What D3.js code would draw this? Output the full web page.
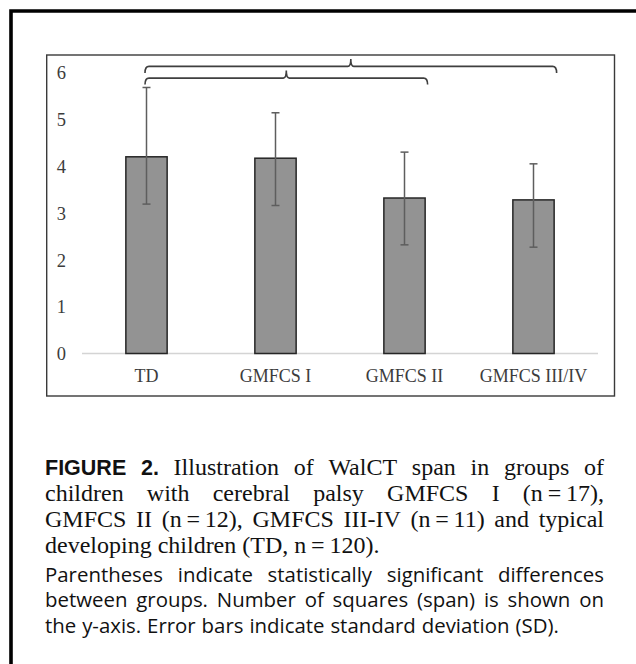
<!DOCTYPE html>
<html>
<head>
<meta charset="utf-8">
<script src="https://cdn.jsdelivr.net/npm/d3@7"></script>
<style>
  html, body { margin: 0; padding: 0; background: #fff; }
  svg { display: block; }
</style>
</head>
<body>
<svg id="chart" width="636" height="664"></svg>
<script>
// ---- data ----
const categories = ["TD", "GMFCS I", "GMFCS II", "GMFCS III/IV"];
const means      = [4.20, 4.17, 3.32, 3.28];
const sdUpper    = [5.68, 5.14, 4.30, 4.05];
const sdLower    = [3.19, 3.16, 2.32, 2.27];
const yTicks     = [0, 1, 2, 3, 4, 5, 6];
// significance brackets: from / to category, level in y units
const bracketFrom  = ["TD", "TD"];
const bracketTo    = ["GMFCS III/IV", "GMFCS II"];
const bracketLevel = [6.13, 5.88];

const captionLines = [
  { justify: true,  words: [["FIGURE", "b"], ["2.", "b"], ["Illustration"], ["of"], ["WalCT"], ["span"], ["in"], ["groups"], ["of"]] },
  { justify: true,  words: [["children"], ["with"], ["cerebral"], ["palsy"], ["GMFCS"], ["I"], ["(n\u2009=\u200917),"]] },
  { justify: true,  words: [["GMFCS"], ["II"], ["(n\u2009=\u200912),"], ["GMFCS"], ["III-IV"], ["(n\u2009=\u200911)"], ["and"], ["typical"]] },
  { justify: false, words: [["developing"], ["children"], ["(TD,"], ["n\u2009=\u2009120)."]] },
  { justify: true,  words: [["Parentheses", "s"], ["indicate", "s"], ["statistically", "s"], ["significant", "s"], ["differences", "s"]] },
  { justify: true,  words: [["between", "s"], ["groups.", "s"], ["Number", "s"], ["of", "s"], ["squares", "s"], ["(span)", "s"], ["is", "s"], ["shown", "s"], ["on", "s"]] },
  { justify: false, words: [["the", "s"], ["y-axis.", "s"], ["Error", "s"], ["bars", "s"], ["indicate", "s"], ["standard", "s"], ["deviation", "s"], ["(SD).", "s"]] }
];
const captionBaselines = [474.5, 501, 526.5, 552.5, 581.5, 607, 633];

// ---- layout ----
const svg = d3.select("#chart");
const serif = "'Liberation Serif', 'Times New Roman', serif";
const sans = "'Open Sans', 'Noto Sans', sans-serif";
const bold = "'Liberation Sans', Arial, sans-serif";

// outer frame (left + top only)
svg.append("path")
  .attr("d", "M11,664 L11,11 L636,11")
  .attr("fill", "none").attr("stroke", "#000").attr("stroke-width", 3.6);

// chart box
svg.append("rect")
  .attr("x", 46.7).attr("y", 55).attr("width", 567.8).attr("height", 341)
  .attr("fill", "#fff").attr("stroke", "#3a3a3a").attr("stroke-width", 1.4);

const x = d3.scaleBand().domain(categories).range([82, 598]).paddingInner(0.68).paddingOuter(0.34);
const y = d3.scaleLinear().domain([0, 6]).range([353.5, 72.5]);

const g = svg.append("g");

// y axis labels (no line)
const yAxis = d3.axisLeft(y).tickValues(yTicks).tickSize(0).tickPadding(0).tickFormat(d3.format("d"));
const ya = g.append("g").attr("transform", "translate(66,0)").call(yAxis);
ya.select(".domain").remove();
ya.selectAll("text")
  .attr("font-family", serif).attr("font-size", 18.5).attr("fill", "#3c3c3c").attr("dy", "0.34em");

// baseline
g.append("line")
  .attr("x1", x.range()[0]).attr("x2", x.range()[1])
  .attr("y1", y(0)).attr("y2", y(0))
  .attr("stroke", "#d4d4d4").attr("stroke-width", 1.3);

// x axis labels
const xAxis = d3.axisBottom(x).tickSize(0).tickPadding(0);
const xa = g.append("g").attr("transform", "translate(0,382)").call(xAxis);
xa.select(".domain").remove();
xa.selectAll("text")
  .attr("font-family", serif).attr("font-size", 18).attr("fill", "#3c3c3c").attr("dy", 0);

// bars
const bw = x.bandwidth();
g.selectAll("rect.bar").data(categories).enter().append("rect")
  .attr("class", "bar")
  .attr("x", d => x(d))
  .attr("y", (d, i) => y(means[i]))
  .attr("width", bw)
  .attr("height", (d, i) => y(0) - y(means[i]))
  .attr("fill", "#939393").attr("stroke", "#262626").attr("stroke-width", 1.5);

// error bars
const cx = d => x(d) + bw / 2;
const eg = g.append("g").attr("stroke", "#5e5e5e").attr("stroke-width", 1.5);
categories.forEach((c, i) => {
  eg.append("line").attr("x1", cx(c)).attr("x2", cx(c)).attr("y1", y(sdUpper[i])).attr("y2", y(sdLower[i]));
  eg.append("line").attr("x1", cx(c) - 4).attr("x2", cx(c) + 4).attr("y1", y(sdUpper[i])).attr("y2", y(sdUpper[i]));
  eg.append("line").attr("x1", cx(c) - 4).attr("x2", cx(c) + 4).attr("y1", y(sdLower[i])).attr("y2", y(sdLower[i]));
});

// brackets (curly-brace style)
bracketFrom.forEach((f, i) => {
  const xl = cx(f) - 1.5;
  const xr = cx(bracketTo[i]) + bw * 0.56;
  const yy = y(bracketLevel[i]);
  const xm = (xl + xr) / 2;
  const h = 6.5, t = 7.5, r = 3;
  const d = `M${xl},${yy + h} Q${xl},${yy} ${xl + r + 1},${yy} L${xm - r},${yy} Q${xm},${yy} ${xm},${yy - t}` +
            ` M${xm},${yy - t} Q${xm},${yy} ${xm + r},${yy} L${xr - r - 1},${yy} Q${xr},${yy} ${xr},${yy + h}`;
  g.append("path").attr("d", d).attr("fill", "none").attr("stroke", "#3f3f3f").attr("stroke-width", 1.6);
});

// caption with justification
const capLeft = 45, capRight = 604;
const sansSize = 20.4;
const styleFor = k => k === "b" ? { ff: bold, fs: 21.5, fw: "bold" }
                  : k === "s" ? { ff: sans, fs: sansSize, fw: "normal" }
                  : { ff: serif, fs: 24, fw: "normal" };
const cap = svg.append("g").attr("fill", "#111");
captionLines.forEach((line, li) => {
  const nodes = line.words.map(([t, k]) => {
    const s = styleFor(k);
    return cap.append("text").text(t)
      .attr("font-family", s.ff).attr("font-size", s.fs).attr("font-weight", s.fw)
      .attr("y", captionBaselines[li]);
  });
  const widths = nodes.map(n => n.node().getComputedTextLength());
  const total = d3.sum(widths);
  const kind = line.words[line.words.length - 1][1];
  const natGap = kind === "s" ? sansSize * 0.29 : 24 * 0.25;
  const gap = line.justify ? (capRight - capLeft - total) / (nodes.length - 1) : natGap;
  let cur = capLeft;
  nodes.forEach((n, i) => { n.attr("x", cur); cur += widths[i] + gap; });
});
</script>
</body>
</html>
